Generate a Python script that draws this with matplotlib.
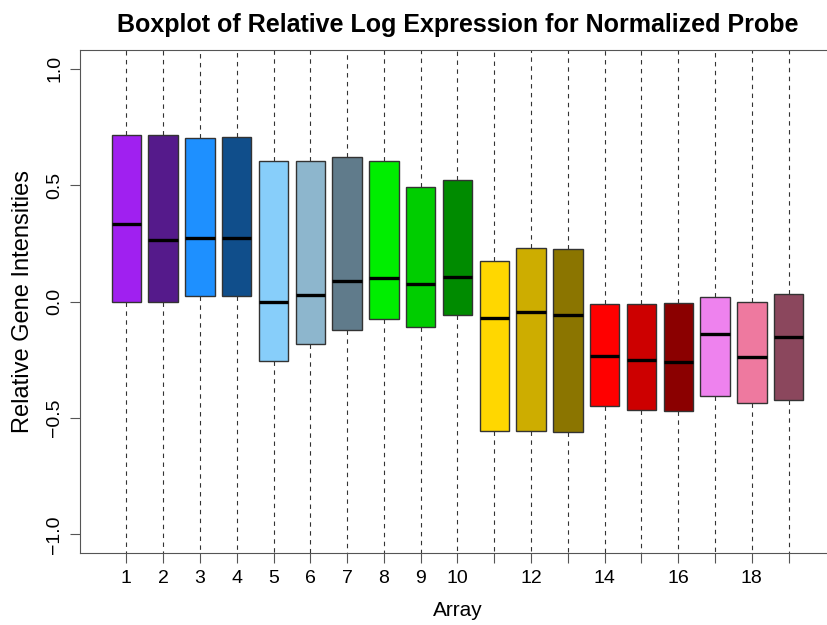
import matplotlib
matplotlib.use("Agg")
import matplotlib.pyplot as plt

plt.rcParams['font.family'] = ['Liberation Sans', 'DejaVu Sans']

# boxplot stats (whiskers run out of view)
arrays = list(range(1, 20))
q1 = [0.0, 0.0, 0.025, 0.025, -0.254, -0.181, -0.121, -0.074, -0.11, -0.056,
      -0.555, -0.558, -0.561, -0.45, -0.464, -0.47, -0.404, -0.438, -0.421]
med = [0.333, 0.264, 0.274, 0.274, 0.0, 0.029, 0.086, 0.10, 0.077, 0.106,
       -0.07, -0.047, -0.056, -0.233, -0.25, -0.258, -0.14, -0.237, -0.153]
q3 = [0.714, 0.714, 0.70, 0.705, 0.603, 0.603, 0.62, 0.602, 0.49, 0.52,
      0.174, 0.23, 0.225, -0.01, -0.011, -0.007, 0.021, -0.003, 0.032]
whisk_lo = [-2.0, -2.0, -2.0, -2.0, -2.0, -2.0, -2.0, -2.0, -2.0, -2.0,
            -2.0, -2.0, -2.0, -2.0, -2.0, -2.0, -2.0, -2.0, -2.0]
whisk_hi = [2.0, 2.0, 2.0, 2.0, 2.0, 2.0, 2.0, 2.0, 2.0, 2.0,
            2.0, 2.0, 2.0, 2.0, 2.0, 2.0, 2.0, 2.0, 2.0]
colors = ["#A020F0", "#551A8B", "#1E90FF", "#104E8B", "#87CEFA", "#8DB6CD",
          "#607B8B", "#00EE00", "#00CD00", "#008B00", "#FFD700", "#CDAD00",
          "#8B7500", "#FF0000", "#CD0000", "#8B0000", "#EE82EE", "#EE799F",
          "#8B475D"]
xtick_labels = ["1", "2", "3", "4", "5", "6", "7", "8", "9", "10",
                "", "12", "", "14", "", "16", "", "18", ""]

stats = []
for i in range(len(arrays)):
    stats.append(dict(med=med[i], q1=q1[i], q3=q3[i],
                      whislo=whisk_lo[i], whishi=whisk_hi[i], fliers=[]))

fig = plt.figure(figsize=(8.27, 6.25), dpi=100)
ax = fig.add_axes([80/827, 1-553/625, (835-80)/827, (553-50)/625])

dash = (0, (4, 4))
bp = ax.bxp(stats, positions=arrays, widths=0.8, patch_artist=True,
            showcaps=False, showfliers=False,
            boxprops=dict(edgecolor="#333333", linewidth=1.0),
            medianprops=dict(color="black", linewidth=2.4),
            whiskerprops=dict(color="#333333", linewidth=0.8, linestyle=dash))
for patch, c in zip(bp['boxes'], colors):
    patch.set_facecolor(c)

ax.set_xlim(-0.26, 20.26)
ax.set_ylim(-1.08, 1.08)
ax.set_xticks(arrays)
ax.set_xticklabels(xtick_labels)
ax.set_yticks([-1.0, -0.5, 0.0, 0.5, 1.0])
ax.set_yticklabels(["\u22121.0", "\u22120.5", "0.0", "0.5", "1.0"],
                   rotation=90, va="center")
ax.tick_params(axis="both", labelsize=14, length=7, color="#555555", pad=5)
for s in ax.spines.values():
    s.set_color("#555555")

ax.set_xlabel("Array", fontsize=15, labelpad=10)
ax.set_ylabel("Relative Gene Intensities", fontsize=17, labelpad=9)
ax.set_title("Boxplot of Relative Log Expression for Normalized Probe",
             fontsize=18, fontweight="bold", pad=13)

fig.savefig("out.png", dpi=100)
